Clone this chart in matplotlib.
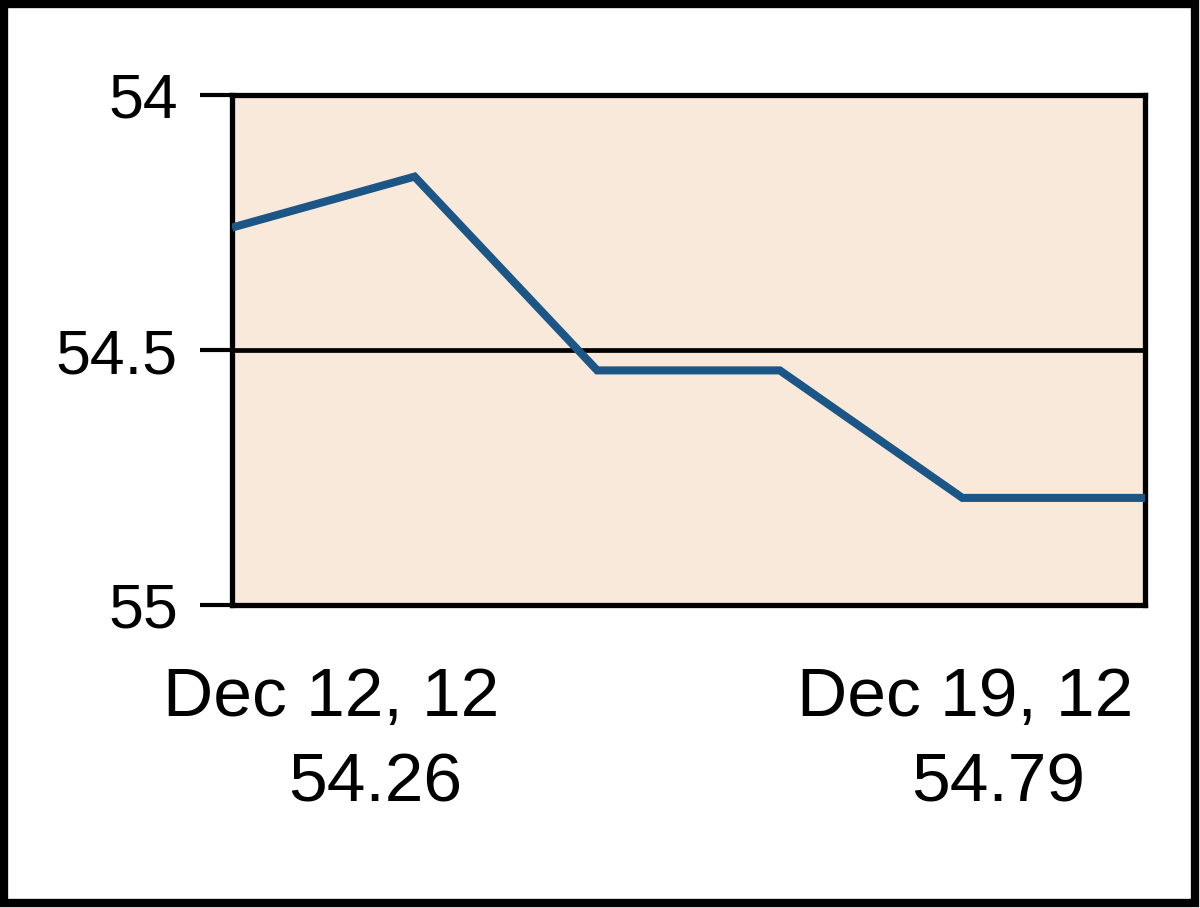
import matplotlib
matplotlib.use("Agg")
import matplotlib.pyplot as plt
from matplotlib.patches import Rectangle

# Data
dates = ["Dec 12, 12", "Dec 13, 12", "Dec 14, 12", "Dec 17, 12", "Dec 18, 12", "Dec 19, 12"]
values = [54.26, 54.16, 54.54, 54.54, 54.79, 54.79]
y_ticks = [54, 54.5, 55]
y_tick_labels = ["54", "54.5", "55"]

plt.rcParams['font.family'] = ['Liberation Sans', 'DejaVu Sans']

fig = plt.figure(figsize=(12, 9.08), dpi=100)
fig.patch.set_facecolor("white")

ax = fig.add_axes([232/1200, 1 - 605/908, (1145 - 232)/1200, (605 - 95)/908])
ax.set_facecolor("#F9E9DA")

x = list(range(len(values)))
ax.plot(x, values, color="#1B5687", linewidth=5.8, solid_capstyle="butt",
        solid_joinstyle="miter", zorder=3)

ax.set_xlim(0, len(values) - 1)
ax.set_ylim(55, 54)
ax.set_yticks(y_ticks)
ax.set_yticklabels(y_tick_labels)
ax.set_xticks([])

ax.axhline(54.5, color="black", linewidth=3.4, zorder=2)

for s in ax.spines.values():
    s.set_color("black")
    s.set_linewidth(3.8)

ax.tick_params(axis="y", length=23, width=3, pad=16, labelsize=45, colors="black",
               direction="out")

# Bottom labels
fig.text(331/1200, 1 - 698/908, dates[0], ha="center", va="center", fontsize=50)
fig.text(375/1200, 1 - 783/908, f"{values[0]:.2f}", ha="center", va="center", fontsize=50)
fig.text(965/1200, 1 - 698/908, dates[-1], ha="center", va="center", fontsize=50)
fig.text(998/1200, 1 - 783/908, f"{values[-1]:.2f}", ha="center", va="center", fontsize=50)

# Outer frame
fig.patches.append(Rectangle((0.003, 0.005), 0.993, 0.991, transform=fig.transFigure,
                             fill=False, edgecolor="black", linewidth=6))

fig.savefig("out.png", dpi=100)
